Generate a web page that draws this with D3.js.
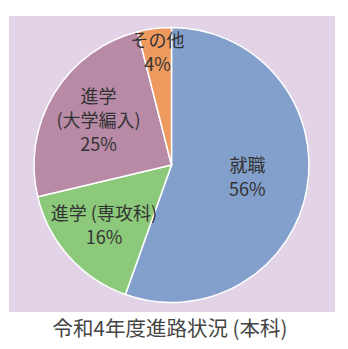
<!DOCTYPE html>
<html>
<head>
<meta charset="utf-8">
<script src="https://cdn.jsdelivr.net/npm/d3@7"></script>
<style>
  body { margin: 0; background: #fff; }
  text { font-family: "Noto Sans CJK JP", "Noto Sans", sans-serif; }
</style>
</head>
<body>
<div id="chart"></div>
<script>
// data (clockwise from 12 o'clock)
const categories = ['就職', '進学 (専攻科)', '進学\n(大学編入)', 'その他'];
const values = [56, 16, 25, 4];
const colors = ['#82a0cb', '#8cc97b', '#b88aa6', '#ee9a5f'];
const title = '令和4年度進路状況 (本科)';

const width = 348, height = 349;
const cx = 171.5, cy = 165, radius = 137.5;
// how far out each label sits, as a share of the radius
const labelPos = [0.56, 0.66, 0.62, 0.82];

const svg = d3.select('#chart')
    .append('svg')
    .attr('width', width)
    .attr('height', height);

// lavender panel behind the pie
svg.append('rect')
    .attr('x', 9)
    .attr('y', 16)
    .attr('width', 326)
    .attr('height', 296)
    .attr('fill', '#e2d3e6');

const data = categories.map((c, i) => ({ name: c, value: values[i], color: colors[i] }));

const pie = d3.pie()
    .sort(null)
    .value(d => d.value);

const arc = d3.arc()
    .innerRadius(0)
    .outerRadius(radius);

const chart = svg.append('g')
    .attr('transform', `translate(${cx},${cy})`);

const arcs = pie(data);

chart.selectAll('.slice')
    .data(arcs)
    .enter()
    .append('path')
    .attr('class', 'slice')
    .attr('d', arc)
    .attr('fill', d => d.data.color)
    .attr('stroke', '#fff')
    .attr('stroke-width', 1.5);

const lineH = 24;

const labels = chart.selectAll('.label')
    .data(arcs)
    .enter()
    .append('text')
    .attr('class', 'label')
    .attr('text-anchor', 'middle')
    .attr('font-size', '18px')
    .attr('fill', '#333')
    .attr('transform', (d, i) => {
        const r = radius * labelPos[i];
        const [x, y] = d3.arc().innerRadius(r).outerRadius(r).centroid(d);
        return `translate(${x},${y})`;
    });

labels.each(function(d) {
    const lines = d.data.name.split('\n').concat([d.data.value + '%']);
    const t = d3.select(this);
    lines.forEach((l, i) => {
        t.append('tspan')
            .attr('x', 0)
            .attr('y', (i - (lines.length - 1) / 2) * lineH)
            .attr('dy', '0.35em')
            .text(l);
    });
});

svg.append('text')
    .attr('x', 170)
    .attr('y', 329)
    .attr('dy', '0.35em')
    .attr('text-anchor', 'middle')
    .attr('font-size', '20.5px')
    .attr('fill', '#444')
    .text(title);
</script>
</body>
</html>
